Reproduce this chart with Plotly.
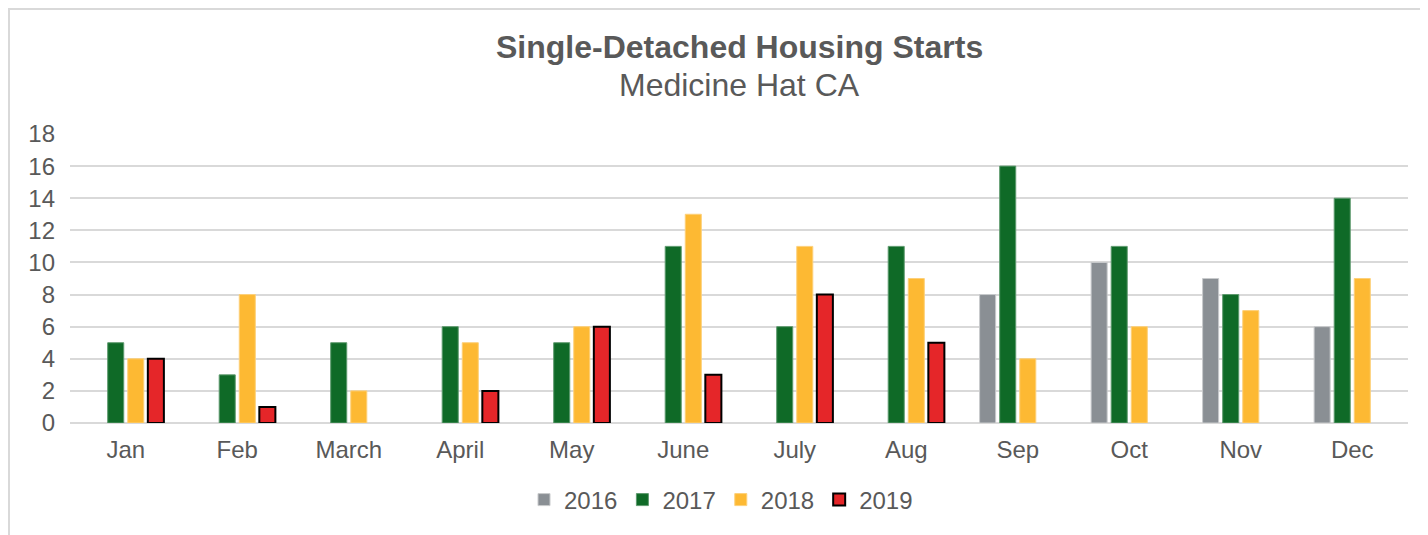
import plotly.graph_objects as go

months = ["Jan", "Feb", "March", "April", "May", "June", "July", "Aug", "Sep", "Oct", "Nov", "Dec"]
s2016 = [None, None, None, None, None, None, None, None, 8, 10, 9, 6]
s2017 = [5, 3, 5, 6, 5, 11, 6, 11, 16, 11, 8, 14]
s2018 = [4, 8, 2, 5, 6, 13, 11, 9, 4, 6, 7, 9]
s2019 = [4, 1, None, 2, 6, 3, 8, 5, None, None, None, None]

txt = "#595959"
fig = go.Figure()
fig.add_bar(x=months, y=s2016, name="2016", marker=dict(color="#8a8f94", line=dict(color="#c8cacc", width=1)))
fig.add_bar(x=months, y=s2017, name="2017", marker=dict(color="#0f6a27", line=dict(color="#5e9a6e", width=1)))
fig.add_bar(x=months, y=s2018, name="2018", marker=dict(color="#fdb933", line=dict(color="#fdd07a", width=1)))
fig.add_bar(x=months, y=s2019, name="2019", marker=dict(color="#e52629", line=dict(color="#000000", width=2)))

OFF = 8  # page body margin
W, H = 1428 - OFF, 535 - OFF
L, R, T, B = 70 - OFF, 20, 134 - OFF, 112
pw, ph = W - L - R, H - T - B

def py(page_y):
    return (H - (page_y - OFF) - B) / ph

def px(page_x):
    return ((page_x - OFF) - L) / pw

fig.update_layout(
    width=W, height=H,
    margin=dict(l=L, r=R, t=T, b=B),
    paper_bgcolor="white", plot_bgcolor="white",
    barmode="group", bargap=0.28, bargroupgap=0.2,
    font=dict(family="Liberation Sans, Arial, sans-serif", color=txt, size=24),
    showlegend=True,
    legend=dict(orientation="h", x=px(721), xanchor="center", y=py(500), yanchor="middle",
                font=dict(size=24, color=txt), traceorder="normal", itemwidth=30),
    yaxis=dict(range=[0, 18], dtick=2, showgrid=True, gridcolor="#d9d9d9", gridwidth=2,
               zeroline=True, zerolinecolor="#d9d9d9", zerolinewidth=2,
               tickfont=dict(size=24, color=txt), ticklabelstandoff=14, fixedrange=True),
    xaxis=dict(showline=False, tickfont=dict(size=24, color=txt), ticks="", ticklabelstandoff=10),
    annotations=[
        dict(text="<b>Single-Detached Housing Starts</b>", x=0.5, y=py(47), xref="paper", yref="paper",
             xanchor="center", yanchor="middle", showarrow=False, font=dict(size=32, color=txt)),
        dict(text="Medicine Hat CA", x=0.5, y=py(85), xref="paper", yref="paper",
             xanchor="center", yanchor="middle", showarrow=False, font=dict(size=32, color=txt)),
    ],
    shapes=[dict(type="rect", xref="paper", yref="paper",
                 x0=px(9), x1=px(1440),
                 y0=py(545), y1=py(9),
                 line=dict(color="#d9d9d9", width=2), layer="below")],
)
fig.write_html("out.html")
